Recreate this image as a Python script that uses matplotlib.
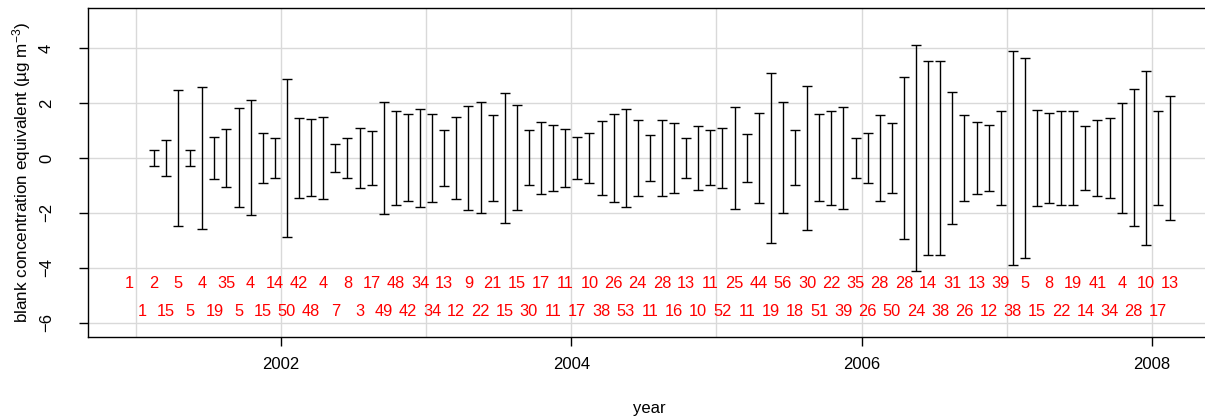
import numpy as np
import pandas as pd
import matplotlib
matplotlib.use("Agg")
import matplotlib.pyplot as plt
from matplotlib.ticker import MultipleLocator

plt.rcParams['font.family'] = ['Liberation Sans', 'DejaVu Sans']
plt.rcParams['mathtext.fontset'] = 'custom'
plt.rcParams['mathtext.rm'] = 'Liberation Sans'
plt.rcParams['mathtext.it'] = 'Liberation Sans:italic'

# monthly categories: Dec 2000 .. Feb 2008
months = pd.date_range("2000-12-01", periods=87, freq="MS")

# half-width of the interval (blank concentration equivalent, ug m-3)
half_width = [np.nan, np.nan,
    0.29, 0.65, 2.48, 0.30, 2.57, 0.77, 1.05, 1.80, 2.09, 0.91, 0.73,
    2.88, 1.45, 1.40, 1.50, 0.52, 0.72, 1.08, 0.99, 2.04, 1.71, 1.58, 1.78,
    1.61, 1.01, 1.49, 1.89, 2.02, 1.55, 2.35, 1.91, 1.00, 1.31, 1.19, 1.05,
    0.76, 0.91, 1.36, 1.61, 1.78, 1.38, 0.85, 1.38, 1.27, 0.73, 1.17, 1.00,
    1.09, 1.85, 0.86, 1.65, 3.10, 2.02, 1.00, 2.63, 1.58, 1.71, 1.85, 0.72,
    0.92, 1.55, 1.27, 2.95, 4.12, 3.53, 3.52, 2.41, 1.57, 1.30, 1.20, 1.71,
    3.90, 3.64, 1.75, 1.64, 1.70, 1.70, 1.17, 1.38, 1.44, 2.00, 2.49, 3.15,
    1.71, 2.25]

# number of samples per month
counts = [1, 1, 2, 15, 5, 5, 4, 19, 35, 5, 4, 15, 14, 50, 42, 48, 4, 7, 8, 3,
          17, 49, 48, 42, 34, 34, 13, 12, 9, 22, 21, 15, 15, 30, 17, 11, 11, 17,
          10, 38, 26, 53, 24, 11, 28, 16, 13, 10, 11, 52, 25, 11, 44, 19, 56, 18,
          30, 51, 22, 39, 35, 26, 28, 50, 28, 24, 14, 38, 31, 26, 13, 12, 39, 38,
          5, 15, 8, 22, 19, 14, 41, 34, 4, 28, 10, 17, 13]

center = np.zeros(len(months))
x = months.year + (months.month - 0.5) / 12.0
hw = np.array(half_width, dtype=float)

W, H = 1205, 418
fig = plt.figure(figsize=(W / 100, H / 100), dpi=100)
ax = fig.add_axes([88 / W, 1 - 337 / H, (1211.6 - 88) / W, (337 - 8) / H])

ax.errorbar(x, center, yerr=hw, fmt='none', ecolor='black', elinewidth=1.0,
            capsize=3.6, capthick=1.0, zorder=3)

for i, (xi, c) in enumerate(zip(x, counts)):
    yy = -4.55 if i % 2 == 0 else -5.6
    ax.text(xi, yy, str(c), color='red', fontsize=11.8, ha='center', va='center', zorder=4)

ax.set_xlim(2000.671, 2008.411)
ax.set_ylim(-6.51, 5.45)
ax.xaxis.set_major_locator(MultipleLocator(2))
ax.xaxis.set_minor_locator(MultipleLocator(1))
ax.yaxis.set_major_locator(MultipleLocator(2))
ax.xaxis.set_major_formatter(matplotlib.ticker.FuncFormatter(lambda v, p: f"{int(round(v))}"))
ax.yaxis.set_major_formatter(matplotlib.ticker.FuncFormatter(lambda v, p: f"{int(round(v))}".replace('-', '\u2212')))
ax.grid(True, which='both', color='#d9d9d9', linewidth=1.0, zorder=0)
ax.set_axisbelow(True)
ax.tick_params(axis='both', which='major', direction='out', length=6.5, width=1.0, labelsize=12)
ax.tick_params(axis='x', which='minor', length=0)
ax.tick_params(axis='x', which='major', pad=8)
ax.tick_params(axis='y', which='major', pad=18)
for lbl in ax.get_yticklabels():
    lbl.set_rotation(90)
    lbl.set_va('center')
for s in ax.spines.values():
    s.set_linewidth(1.0)
    s.set_color('black')

ax.set_xlabel('year', fontsize=12, labelpad=21)
ax.set_ylabel(r'blank concentration equivalent (µg m$^{-3}$)', fontsize=12.3, labelpad=4)

fig.savefig('out.png', dpi=100)
